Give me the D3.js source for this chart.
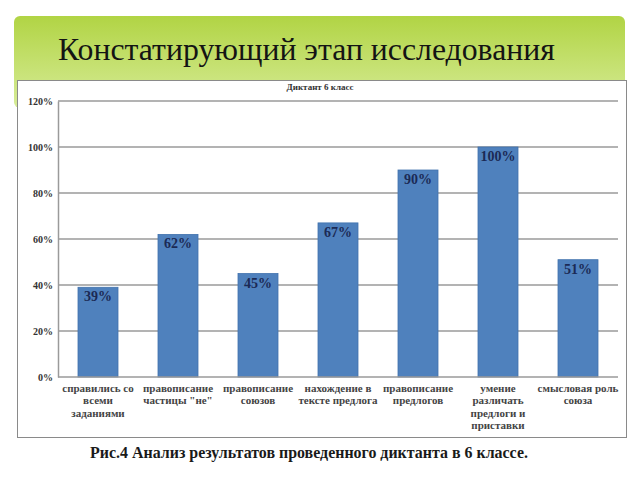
<!DOCTYPE html>
<html><head><meta charset="utf-8">
<script src="https://cdn.jsdelivr.net/npm/d3@7"></script>
<style>body{margin:0;background:#fff}svg{display:block}</style>
</head><body>
<svg id="c" width="640" height="480"></svg>
<script>
const categories = [
  ["справились со","всеми","заданиями"],
  ["правописание","частицы \"не\""],
  ["правописание","союзов"],
  ["нахождение в","тексте предлога"],
  ["правописание","предлогов"],
  ["умение","различать","предлоги и","приставки"],
  ["смысловая роль","союза"]
];
const values = [0.39, 0.62, 0.45, 0.67, 0.90, 1.00, 0.51];
const valueLabels = ["39%","62%","45%","67%","90%","100%","51%"];
const yTicks = [0, 0.2, 0.4, 0.6, 0.8, 1.0, 1.2];
const headerTitle = "Констатирующий этап исследования";
const chartTitle = "Диктант 6 класс";
const caption = "Рис.4 Анализ результатов проведенного диктанта в 6 классе.";

const FONT = "'Tinos'";
const svg = d3.select("#c");
const defs = svg.append("defs");
const g = defs.append("linearGradient").attr("id","gr").attr("x1",0).attr("y1",0).attr("x2",0).attr("y2",1);
g.append("stop").attr("offset","0%").attr("stop-color","#b1d444");
g.append("stop").attr("offset","100%").attr("stop-color","#d7ec98");

function fitText(sel, target){
  const fs = parseFloat(sel.style("font-size"));
  const len = sel.node().getComputedTextLength();
  sel.style("font-size", (fs*target/len).toFixed(2)+"px");
}

svg.append("rect").attr("x",14).attr("y",16).attr("width",611).attr("height",92).attr("rx",6).attr("fill","url(#gr)");
const ht = svg.append("text").attr("x",58).attr("y",60).style("font-family",FONT)
  .style("font-size","30px").attr("fill","#141414").text(headerTitle);
fitText(ht, 497);

svg.append("rect").attr("x",17.5).attr("y",80.5).attr("width",609).attr("height",357).attr("fill","#fff").attr("stroke","#8a8a8a").attr("stroke-width",1);

const x = d3.scaleBand().domain(d3.range(categories.length)).range([58,618]).paddingInner(0.5).paddingOuter(0.25);
const y = d3.scaleLinear().domain([0,1.2]).range([377,101]);

svg.append("text").attr("x",320).attr("y",90).attr("text-anchor","middle").style("font-family",FONT)
  .style("font-size","9px").style("font-weight","bold").attr("fill","#333").text(chartTitle);

svg.append("g").selectAll("line").data(yTicks.filter(d=>d>0)).join("line")
  .attr("x1",58).attr("x2",618).attr("y1",d=>y(d)).attr("y2",d=>y(d))
  .attr("stroke","#9a9a9a").attr("stroke-width",1.5);

const yAxis = svg.append("g").attr("transform","translate(58,0)")
  .call(d3.axisLeft(y).tickValues(yTicks).tickFormat(d3.format(".0%")).tickSize(0).tickPadding(5));
yAxis.select(".domain").attr("stroke","#9a9a9a").attr("stroke-width",1.5);
yAxis.selectAll("text").style("font-family",FONT).style("font-size","10px").style("font-weight","bold").attr("fill","#333");

svg.append("g").selectAll("rect").data(values).join("rect")
  .attr("x",(d,i)=>x(i)).attr("width",x.bandwidth())
  .attr("y",d=>y(d)).attr("height",d=>y(0)-y(d))
  .attr("fill","#4f81bd").attr("stroke","#4172ad").attr("stroke-width",0.8);

svg.append("line").attr("x1",58).attr("x2",618).attr("y1",y(0)).attr("y2",y(0)).attr("stroke","#9a9a9a").attr("stroke-width",1.5);

svg.append("g").selectAll("text").data(values).join("text")
  .attr("x",(d,i)=>x(i)+x.bandwidth()/2).attr("y",d=>y(d)+14)
  .attr("text-anchor","middle").style("font-family",FONT)
  .style("font-size","14px").style("font-weight","bold").attr("fill","#1b2a55")
  .text((d,i)=>valueLabels[i]);

const xl = svg.append("g").selectAll("text").data(categories).join("text")
  .attr("text-anchor","middle").style("font-family",FONT)
  .style("font-size","11px").style("font-weight","bold").attr("fill","#444");
xl.each(function(lines,i){
  d3.select(this).selectAll("tspan").data(lines).join("tspan")
    .attr("x",x(i)+x.bandwidth()/2).attr("y",(d,j)=>392+j*12.3).text(d=>d);
});

const cp = svg.append("text").attr("x",309).attr("y",458).attr("text-anchor","middle").style("font-family",FONT)
  .style("font-size","13.5px").style("font-weight","bold").attr("fill","#1a1a1a").text(caption);
fitText(cp, 438);
</script>
</body></html>
